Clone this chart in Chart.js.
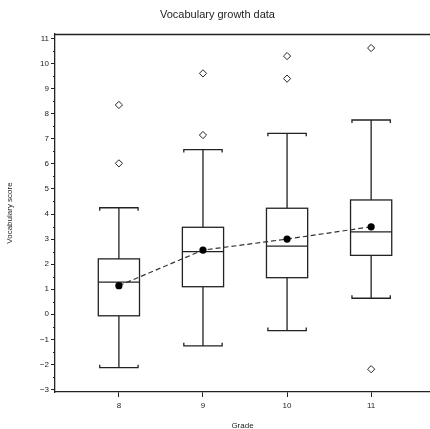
<!DOCTYPE html>
<html>
<head>
<meta charset="utf-8">
<script src="https://cdn.jsdelivr.net/npm/chart.js@4.4.1/dist/chart.umd.min.js"></script>
<style>
  html, body { margin: 0; padding: 0; background: #ffffff; }
  #wrap { width: 430px; height: 429px; }
</style>
</head>
<body>
<div id="wrap"><canvas id="c" width="430" height="429"></canvas></div>
<script>
// ---- data ----
const grades      = [8, 9, 10, 11];
const whiskerLow  = [-2.13, -1.26, -0.65, 0.64];
const q1          = [-0.06, 1.10, 1.46, 2.35];
const medians     = [1.28, 2.50, 2.72, 3.29];
const q3          = [2.21, 3.47, 4.23, 4.56];
const whiskerHigh = [4.25, 6.57, 7.22, 7.75];
const means       = [1.14, 2.56, 3.00, 3.49];
const outlierGrades = [8, 8, 9, 9, 10, 10, 11, 11];
const outlierValues = [8.35, 6.02, 9.61, 7.15, 10.30, 9.40, 10.62, -2.19];
const yTickValues = [-3, -2, -1, 0, 1, 2, 3, 4, 5, 6, 7, 8, 9, 10, 11];

const FONT = "'Liberation Sans', Arial, Helvetica, sans-serif";
const INK = '#222222';
const BOX_HALF = 0.245;
const CAP_HALF = 0.228;

const boxPlugin = {
  id: 'boxes',
  beforeDatasetsDraw(chart) {
    const ctx = chart.ctx;
    const xs = chart.scales.x, ys = chart.scales.y;
    const area = chart.chartArea;
    ctx.save();
    ctx.strokeStyle = INK;
    ctx.lineWidth = 1.3;
    // top frame line
    ctx.beginPath();
    ctx.moveTo(area.left, area.top + 0.5);
    ctx.lineTo(chart.width, area.top + 0.5);
    ctx.stroke();
    // minor y ticks
    ctx.lineWidth = 1;
    for (let v = -2.5; v <= 11; v += 1) {
      const py = Math.round(ys.getPixelForValue(v)) + 0.5;
      ctx.beginPath();
      ctx.moveTo(area.left - 2, py);
      ctx.lineTo(area.left, py);
      ctx.stroke();
    }
    ctx.lineWidth = 1.3;
    grades.forEach((g, i) => {
      const cx = xs.getPixelForValue(g);
      const bl = xs.getPixelForValue(g - BOX_HALF), br = xs.getPixelForValue(g + BOX_HALF);
      const cl = xs.getPixelForValue(g - CAP_HALF), cr = xs.getPixelForValue(g + CAP_HALF);
      const yLo = ys.getPixelForValue(whiskerLow[i]);
      const yQ1 = ys.getPixelForValue(q1[i]);
      const yMed = ys.getPixelForValue(medians[i]);
      const yQ3 = ys.getPixelForValue(q3[i]);
      const yHi = ys.getPixelForValue(whiskerHigh[i]);
      ctx.beginPath();
      ctx.moveTo(cx, yQ3); ctx.lineTo(cx, yHi);
      ctx.moveTo(cx, yQ1); ctx.lineTo(cx, yLo);
      ctx.moveTo(cl, yHi + 3); ctx.lineTo(cl, yHi); ctx.lineTo(cr, yHi); ctx.lineTo(cr, yHi + 3);
      ctx.moveTo(cl, yLo - 3); ctx.lineTo(cl, yLo); ctx.lineTo(cr, yLo); ctx.lineTo(cr, yLo - 3);
      ctx.stroke();
      ctx.fillStyle = '#ffffff';
      ctx.fillRect(bl, yQ3, br - bl, yQ1 - yQ3);
      ctx.strokeRect(bl, yQ3, br - bl, yQ1 - yQ3);
      ctx.beginPath();
      ctx.moveTo(bl, yMed); ctx.lineTo(br, yMed);
      ctx.stroke();
    });
    ctx.restore();
  }
};

new Chart(document.getElementById('c'), {
  type: 'scatter',
  data: {
    datasets: [
      {
        type: 'line',
        label: 'Mean',
        data: grades.map((g, i) => ({ x: g, y: means[i] })),
        borderColor: '#333333',
        borderWidth: 1.2,
        borderDash: [5, 3],
        pointRadius: 3.6,
        pointBackgroundColor: '#000000',
        pointBorderColor: '#000000',
        pointBorderWidth: 0,
        fill: false,
        tension: 0,
        clip: false
      },
      {
        label: 'Outliers',
        data: outlierGrades.map((g, i) => ({ x: g, y: outlierValues[i] })),
        pointStyle: 'rectRot',
        pointRadius: 3.6,
        pointBackgroundColor: '#ffffff',
        pointBorderColor: '#222222',
        pointBorderWidth: 1,
        clip: false
      }
    ]
  },
  options: {
    responsive: false,
    animation: false,
    devicePixelRatio: 1,
    layout: { autoPadding: false, padding: { left: 0, right: -5, top: 0, bottom: 0 } },
    plugins: {
      legend: { display: false },
      tooltip: { enabled: false },
      title: {
        display: true,
        text: 'Vocabulary growth data',
        color: INK,
        font: { family: FONT, size: 11, weight: 'normal' },
        padding: { top: 8, bottom: 12.8 }
      }
    },
    scales: {
      x: {
        type: 'linear',
        min: 7.24,
        max: 11.7,
        offset: false,
        afterBuildTicks: (s) => { s.ticks = grades.map(v => ({ value: v })); },
        afterFit: (s) => { s.height = 37; },
        grid: { display: true, drawOnChartArea: false, drawTicks: true, tickLength: 5, color: INK, tickWidth: 1 },
        border: { display: true, color: INK, width: 1.3 },
        ticks: { color: INK, font: { family: FONT, size: 8 }, padding: 4, maxRotation: 0, autoSkip: false },
        title: { display: true, text: 'Grade', color: INK, font: { family: FONT, size: 8 }, padding: { top: 0, bottom: -2 } }
      },
      y: {
        type: 'linear',
        min: -3.1,
        max: 11.18,
        afterBuildTicks: (s) => { s.ticks = yTickValues.map(v => ({ value: v })); },
        afterFit: (s) => { s.width = 55; },
        grid: { display: true, drawOnChartArea: false, drawTicks: true, tickLength: 4, color: INK, tickWidth: 1 },
        border: { display: true, color: INK, width: 1.3 },
        ticks: {
          color: INK,
          font: { family: FONT, size: 8 },
          padding: 2,
          callback: (v) => (v < 0 ? '\u2212' + Math.abs(v) : String(v))
        },
        title: { display: true, text: 'Vocabulary score', color: INK, font: { family: FONT, size: 8 }, padding: { top: 5, bottom: 0 } }
      }
    }
  },
  plugins: [boxPlugin]
});
</script>
</body>
</html>
